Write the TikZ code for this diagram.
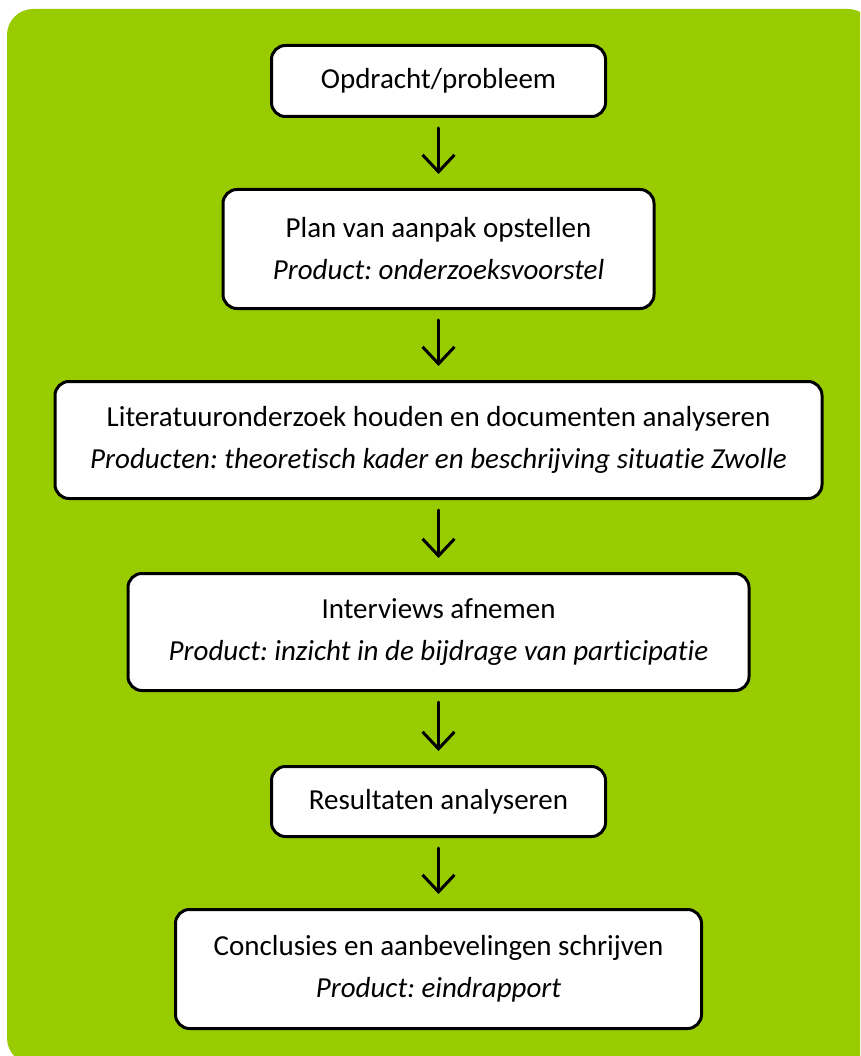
\documentclass[tikz,border=0pt]{standalone}
\usepackage{fontspec}
\setmainfont{Carlito}[Ligatures={NoCommon}]
\frenchspacing
\usetikzlibrary{arrows.meta}
\definecolor{leaf}{HTML}{99CC00}
\tikzset{
  stepbox/.style={draw=black, fill=white, line width=3pt, rounded corners=14pt,
    align=center, inner sep=0pt, font=\fontsize{29}{42}\selectfont},
  flow/.style={line width=3pt, line cap=round,
    -{Straight Barb[length=17pt,width=32pt,line width=3pt]},
    shorten <=10pt, shorten >=14pt}
}
\begin{document}
\begin{tikzpicture}[x=1pt,y=-1pt]
  \useasboundingbox (0,0) rectangle (860,1056);
  \clip (0,0) rectangle (860,1056);
  % green panel behind the flow chart
  \fill[leaf, rounded corners=26pt] (7,9) rectangle (874,1064);

  \node[stepbox, minimum width=334pt, minimum height=71pt] (b1) at (438.5,81)
    {Opdracht/probleem};
  \node[stepbox, minimum width=431pt, minimum height=119pt] (b2) at (438.5,249)
    {Plan van aanpak opstellen\\\textit{Product: onderzoeksvoorstel}};
  \node[stepbox, minimum width=767pt, minimum height=117pt] (b3) at (438.5,440)
    {Literatuuronderzoek houden en documenten analyseren\\\textit{Producten: theoretisch kader en beschrijving situatie Zwolle}};
  \node[stepbox, minimum width=621pt, minimum height=117pt] (b4) at (438.5,632)
    {Interviews afnemen\\\textit{Product: inzicht in de bijdrage van participatie}};
  \node[stepbox, minimum width=334pt, minimum height=70pt] (b5) at (438.5,801.5)
    {Resultaten analyseren};
  \node[stepbox, minimum width=526pt, minimum height=119pt] (b6) at (438.5,969)
    {Conclusies en aanbevelingen schrijven\\\textit{Product: eindrapport}};

  \draw[flow] (b1) -- (b2);
  \draw[flow] (b2) -- (b3);
  \draw[flow] (b3) -- (b4);
  \draw[flow] (b4) -- (b5);
  \draw[flow] (b5) -- (b6);
\end{tikzpicture}
\end{document}
